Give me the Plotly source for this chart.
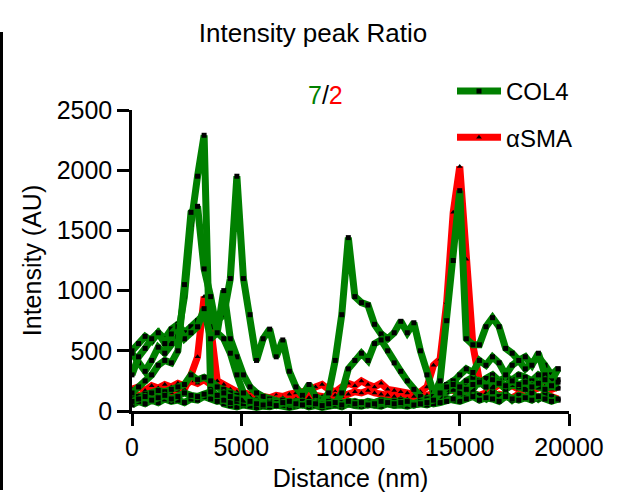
import plotly.graph_objects as go

# Distance (nm)
distance = [0, 300, 600, 900, 1200, 1500, 1800, 2100, 2400, 2700,
            3000, 3300, 3600, 3900, 4200, 4500, 4800, 5100, 5400, 5700,
            6000, 6300, 6600, 6900, 7200, 7500, 7800, 8100, 8400, 8700,
            9000, 9300, 9600, 9900, 10200, 10500, 10800, 11100, 11400, 11700,
            12000, 12300, 12600, 12900, 13200, 13500, 13800, 14100, 14400, 14700,
            15000, 15300, 15600, 15900, 16200, 16500, 16800, 17100, 17400, 17700,
            18000, 18300, 18600, 18900, 19200, 19500]

# COL4 intensity profiles (AU)
col4_1 = [480, 400, 330, 420, 530, 480, 560, 620, 950, 1550,
          1950, 2290, 180, 110, 60, 45, 35, 50, 40, 30,
          40, 35, 50, 45, 30, 40, 55, 35, 45, 30,
          40, 50, 35, 60, 45, 40, 55, 50, 40, 60,
          45, 50, 40, 55, 60, 50, 70, 120, 160, 180,
          140, 110, 150, 130, 100, 160, 120, 140, 90, 130,
          110, 150, 100, 140, 120, 90]
col4_2 = [500, 560, 620, 580, 650, 600, 680, 720, 650, 700,
          750, 800, 700, 750, 800, 1100, 1950, 1100, 800, 420,
          600, 680, 450, 590, 330, 200, 130, 220, 120, 90,
          80, 70, 60, 80, 70, 60, 80, 70, 90, 80,
          70, 90, 80, 60, 80, 90, 110, 180, 220, 250,
          200, 250, 280, 230, 270, 300, 250, 280, 260, 300,
          280, 250, 300, 270, 240, 260]
col4_3 = [300, 450, 520, 600, 650, 560, 640, 700, 600, 650,
          700, 850, 600, 650, 1000, 600, 450, 300, 200, 150,
          120, 100, 80, 70, 60, 50, 80, 60, 70, 50,
          60, 50, 70, 60, 80, 60, 70, 50, 60, 70,
          80, 60, 70, 50, 60, 80, 100, 130, 180, 250,
          300, 350, 320, 420, 380, 450, 400, 300, 380, 420,
          350, 400, 450, 380, 300, 350]
col4_4 = [100, 120, 140, 150, 170, 160, 180, 200, 220, 300,
          260, 280, 250, 200, 180, 150, 130, 100, 90, 80,
          70, 60, 80, 70, 60, 80, 70, 60, 80, 70,
          150, 420, 800, 1440, 950, 900, 880, 720, 640, 600,
          650, 745, 650, 733, 500, 300, 150, 120, 100, 90,
          80, 100, 120, 90, 110, 100, 80, 120, 100, 90,
          110, 90, 120, 100, 80, 100]
col4_5 = [50, 80, 60, 90, 70, 100, 80, 90, 70, 100,
          90, 120, 100, 80, 90, 70, 80, 60, 70, 80,
          60, 80, 70, 90, 60, 70, 80, 60, 70, 60,
          80, 60, 150, 350, 420, 480, 420, 560, 590, 500,
          400, 330, 250, 180, 120, 80, 60, 70, 80, 100,
          150, 200, 180, 250, 220, 200, 240, 180, 220, 200,
          180, 220, 200, 180, 210, 190]
col4_6 = [80, 100, 120, 90, 110, 130, 100, 120, 150, 130,
          120, 140, 160, 130, 150, 120, 100, 90, 80, 70,
          60, 70, 50, 60, 70, 60, 50, 70, 60, 50,
          60, 50, 70, 60, 50, 70, 60, 50, 70, 60,
          50, 60, 70, 60, 80, 100, 120, 250, 750, 1250,
          1830, 600, 550, 550, 700, 775, 700, 520, 480, 420,
          450, 380, 480, 300, 250, 350]
col4_7 = [150, 200, 250, 300, 380, 420, 400, 500, 1050, 1650,
          1700, 1180, 950, 650, 600, 480, 300, 150, 80, 60,
          50, 60, 45, 70, 80, 60, 50, 70, 60, 45,
          60, 70, 50, 80, 60, 70, 50, 60, 80, 70,
          60, 70, 80, 50, 60, 70, 90, 150, 200, 220,
          200, 180, 220, 240, 200, 260, 230, 210, 250, 220,
          240, 200, 230, 260, 210, 240]

# aSMA intensity profiles (AU)
asma_1 = [180, 200, 170, 210, 190, 220, 200, 230, 210, 250,
          230, 260, 220, 200, 180, 170, 160, 150, 140, 130,
          120, 110, 130, 120, 140, 150, 160, 170, 200, 220,
          180, 160, 200, 230, 210, 250, 220, 200, 230, 180,
          170, 160, 150, 140, 160, 200, 380, 430, 900, 1650,
          2030, 1260, 550, 250, 200, 180, 220, 190, 210, 180,
          200, 170, 190, 210, 180, 200]
asma_2 = [110, 130, 120, 150, 140, 160, 150, 170, 180, 300,
          450, 950, 700, 250, 220, 180, 160, 130, 120, 110,
          100, 90, 100, 110, 90, 100, 120, 110, 130, 120,
          110, 130, 120, 140, 160, 150, 170, 150, 140, 130,
          120, 110, 100, 120, 110, 130, 150, 160, 180, 170,
          150, 160, 140, 130, 150, 120, 140, 130, 110, 140,
          120, 130, 110, 140, 120, 100]

col4_series = [col4_1, col4_2, col4_3, col4_4, col4_5, col4_6, col4_7]
asma_series = [asma_1, asma_2]

x_ticks = [0, 5000, 10000, 15000, 20000]
y_ticks = [0, 500, 1000, 1500, 2000, 2500]

GREEN = "#008000"
RED = "#ff0000"
FONT = "Arial, Liberation Sans, sans-serif"

fig = go.Figure()

for k, ys in enumerate(asma_series):
    fig.add_trace(go.Scatter(
        x=distance, y=ys, mode="lines+markers", name="αSMA",
        legendgroup="asma", legendrank=2, showlegend=(k == 0),
        line=dict(color=RED, width=7),
        marker=dict(symbol="triangle-up", size=5, color="black"),
    ))

for k, ys in enumerate(col4_series):
    fig.add_trace(go.Scatter(
        x=distance, y=ys, mode="lines+markers", name="COL4",
        legendgroup="col4", legendrank=1, showlegend=(k == 0),
        line=dict(color=GREEN, width=7),
        marker=dict(symbol="square", size=5, color="black"),
    ))

axis_common = dict(
    showline=True, linecolor="black", linewidth=2.5,
    ticks="outside", ticklen=12, tickwidth=2.5, tickcolor="black",
    showgrid=False, zeroline=False, tickformat="d",
    tickfont=dict(size=25, color="black", family=FONT),
)

fig.update_layout(
    width=638, height=500,
    margin=dict(l=132, r=69, t=110, b=89),
    paper_bgcolor="white", plot_bgcolor="white",
    font=dict(family=FONT, color="black", size=25),
    title=dict(text="Intensity peak Ratio", x=313 / 638, xanchor="center",
               y=1 - 33 / 500, yanchor="middle",
               font=dict(size=26, family=FONT, color="black")),
    xaxis=dict(range=[0, 20000], tickvals=x_ticks,
               title=dict(text="Distance (nm)", standoff=10,
                          font=dict(size=25, family=FONT)),
               **axis_common),
    yaxis=dict(range=[0, 2500], tickvals=y_ticks,
               title=dict(text="Intensity (AU)", standoff=8,
                          font=dict(size=25, family=FONT)),
               **axis_common),
    legend=dict(x=(452 - 132) / 437, xanchor="left", y=(411 - 69) / 301,
                yanchor="top", bgcolor="rgba(0,0,0,0)", borderwidth=0,
                font=dict(size=24, family=FONT, color="black"),
                itemwidth=44, tracegroupgap=12, traceorder="grouped"),
    showlegend=True,
)

fig.add_annotation(
    text="<span style='color:#008000'>7</span>/<span style='color:#ff0000'>2</span>",
    xref="paper", yref="paper", x=(325.5 - 132) / 437, y=(411 - 95) / 301,
    xanchor="center", yanchor="middle", showarrow=False,
    font=dict(size=25, family=FONT, color="black"),
)

# thin dark strip at the left edge of the reference picture
fig.add_shape(type="rect", xref="paper", yref="paper",
              x0=(0 - 132) / 437, x1=(3 - 132) / 437,
              y0=(411 - 490) / 301, y1=(411 - 32) / 301,
              fillcolor="black", line=dict(width=0), layer="above")

fig.write_html("out.html")
